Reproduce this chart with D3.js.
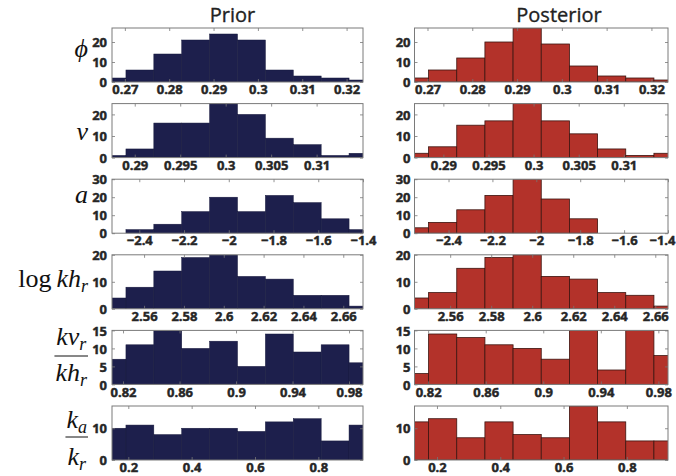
<!DOCTYPE html>
<html><head><meta charset="utf-8">
<script src="https://cdn.jsdelivr.net/npm/d3@7"></script>
<style>
body{margin:0;background:#fff}
svg{display:block}
.tick text{font-family:'Open Sans',sans-serif;font-weight:700;font-size:13px;fill:#262626;stroke:#262626;stroke-width:0.45px}
.title{font-family:'Open Sans',sans-serif;font-weight:500;font-size:20px;fill:#222;stroke:#222;stroke-width:0.35px}
.math{font-family:'Liberation Serif','DejaVu Serif',serif;font-size:26px;fill:#111}
</style>
</head><body><svg id="chart" width="676" height="476"></svg>
<script>
// Histogram counts, 10 bins per parameter
const priorPhi   = [2, 6, 14, 21, 24, 21, 6, 3, 2, 1];
const postPhi    = [2, 6, 12, 20, 27, 19, 8, 3, 2, 1];
const priorNu    = [1, 4, 16, 16, 25, 20, 9, 6, 1, 2];
const postNu     = [2, 5, 15, 17, 25, 17, 11, 4, 1, 2];
const priorA     = [0, 2, 5, 12, 20, 12, 21, 17, 8, 2];
const postA      = [3, 6, 13, 21, 30, 19, 8, 0, 0, 0];
const priorLogKh = [4, 8, 14, 19, 20, 12, 11, 5, 5, 1];
const postLogKh  = [4, 6, 15, 19, 20, 12, 11, 6, 5, 1];
const priorKvKh  = [7, 11, 15, 10, 12, 5, 14, 9, 11, 6];
const postKvKh   = [3, 14, 13, 11, 10, 7, 15, 4, 15, 8];
const priorKaKr  = [10, 11, 8, 10, 10, 9, 12, 13, 6, 11];
const postKaKr   = [12, 13, 7, 12, 8, 7, 17, 12, 6, 6];

// First and last bin centres (they coincide with the x limits)
const priorRanges = [[0.2671, 0.3237], [0.2875, 0.3151], [-2.522, -1.40], [2.5439, 2.6699], [0.8122, 0.9899], [0.1485, 0.941]];
const postRanges  = [[0.2671, 0.3237], [0.2868, 0.3149], [-2.555, -1.40], [2.5426, 2.6662], [0.8105, 0.9867], [0.129, 0.93]];

// Axis ticks
const xTicks = [[0.27, 0.28, 0.29, 0.30, 0.31, 0.32], [0.29, 0.295, 0.30, 0.305, 0.31], [-2.4, -2.2, -2.0, -1.8, -1.6, -1.4],
                [2.56, 2.58, 2.60, 2.62, 2.64, 2.66], [0.82, 0.86, 0.90, 0.94, 0.98], [0.2, 0.4, 0.6, 0.8]];
const xTickLabels = [["0.27", "0.28", "0.29", "0.3", "0.31", "0.32"], ["0.29", "0.295", "0.3", "0.305", "0.31"],
                     ["\u22122.4", "\u22122.2", "\u22122", "\u22121.8", "\u22121.6", "\u22121.4"],
                     ["2.56", "2.58", "2.6", "2.62", "2.64", "2.66"], ["0.82", "0.86", "0.9", "0.94", "0.98"], ["0.2", "0.4", "0.6", "0.8"]];
const yMax = [27, 25, 30, 20, 15, 17];
const yTicks = [[0, 10, 20], [0, 10, 20], [0, 10, 20, 30], [0, 10, 20], [0, 5, 10, 15], [0, 10]];
const columnTitles = ["Prior", "Posterior"];

const priorCounts = [priorPhi, priorNu, priorA, priorLogKh, priorKvKh, priorKaKr];
const postCounts  = [postPhi, postNu, postA, postLogKh, postKvKh, postKaKr];

const svg = d3.select("#chart");
svg.append("rect").attr("width", 676).attr("height", 476).attr("fill", "#fff");

const colX = [112, 414.5], colW = [251, 253.5];
const rowY0 = 28, rowStep = 75.6, plotH = 54;
const fills = ["#1d1f4c", "#b3322a"], strokes = ["#16183c", "#3d1410"];

// Column titles
svg.append("text").attr("class", "title").attr("x", 232.5).attr("y", 22).attr("text-anchor", "middle").text(columnTitles[0]);
svg.append("text").attr("class", "title").attr("x", 559).attr("y", 22).attr("text-anchor", "middle").text(columnTitles[1]);

for (let r = 0; r < 6; r++) {
  for (let c = 0; c < 2; c++) {
    const counts = c === 0 ? priorCounts[r] : postCounts[r];
    const range = c === 0 ? priorRanges[r] : postRanges[r];
    const w = colW[c];
    const g = svg.append("g").attr("transform", `translate(${colX[c]},${rowY0 + r * rowStep})`);
    const x = d3.scaleLinear().domain(range).range([0, w]);
    const y = d3.scaleLinear().domain([0, yMax[r]]).range([plotH, 0]);
    const step = (range[1] - range[0]) / 9;
    const centers = counts.map((_, i) => range[0] + i * step);

    const clipId = `clip-${r}-${c}`;
    g.append("clipPath").attr("id", clipId).append("rect").attr("width", w).attr("height", plotH);

    g.append("g").attr("clip-path", `url(#${clipId})`)
      .selectAll("rect").data(counts).join("rect")
      .attr("x", (d, i) => x(centers[i] - step / 2))
      .attr("width", (d, i) => x(centers[i] + step / 2) - x(centers[i] - step / 2))
      .attr("y", d => y(d))
      .attr("height", d => plotH - y(d))
      .attr("fill", fills[c])
      .attr("stroke", strokes[c])
      .attr("stroke-width", c === 0 ? 0.5 : 0.8);

    // Axes with inward ticks on all four sides
    const bottom = g.append("g").attr("transform", `translate(0,${plotH})`)
      .call(d3.axisBottom(x).tickValues(xTicks[r]).tickFormat((d, i) => xTickLabels[r][i]).tickSize(-3).tickPadding(3));
    g.append("g").call(d3.axisTop(x).tickValues(xTicks[r]).tickFormat("").tickSize(-3));
    const left = g.append("g")
      .call(d3.axisLeft(y).tickValues(yTicks[r]).tickSize(-3).tickPadding(c === 0 ? 5 : 4));
    g.append("g").attr("transform", `translate(${w},0)`)
      .call(d3.axisRight(y).tickValues(yTicks[r]).tickFormat("").tickSize(-3));
    g.selectAll(".domain").remove();
    g.selectAll(".tick line").attr("stroke", "#777").attr("stroke-width", 0.8);
    bottom.selectAll(".tick text").attr("dy", "0.71em");
    // keep the last label of the right column inside the page edge
    if (c === 1) {
      bottom.selectAll(".tick text").filter(function () {
        return this.getBBox && (colX[c] + x(xTicks[r][xTicks[r].length - 1]) + this.getComputedTextLength() / 2 > 675) &&
               this.textContent === xTickLabels[r][xTickLabels[r].length - 1];
      }).attr("dx", -6);
    }
    left.selectAll(".tick text").attr("dy", "0.36em");

    g.append("rect").attr("width", w).attr("height", plotH)
      .attr("fill", "none").attr("stroke", "#7a7a7a").attr("stroke-width", 1);
  }
}

// Parameter labels (math notation)
function mathLine(parent, xPos, yPos, parts, anchor) {
  const t = parent.append("text").attr("class", "math").attr("x", xPos).attr("y", yPos).attr("text-anchor", anchor);
  parts.forEach(p => {
    const s = t.append("tspan").text(p.t);
    if (p.italic) s.attr("font-style", "italic");
    if (p.dx) s.attr("dx", p.dx);
    if (p.sub) s.attr("font-size", 18).attr("dy", 5);
  });
  return t;
}
const labelRight = 88;
mathLine(svg, labelRight, 57, [{t: "\u03D5", italic: true}], "end");
mathLine(svg, labelRight, 140, [{t: "\u03BD", italic: true}], "end");
mathLine(svg, labelRight, 203, [{t: "a", italic: true}], "end");
mathLine(svg, labelRight, 287, [{t: "log"}, {t: "kh", italic: true, dx: 5}, {t: "r", italic: true, sub: true}], "end");

function fraction(numParts, denParts, numY, lineY, denY) {
  const num = mathLine(svg, 0, numY, numParts, "middle");
  const den = mathLine(svg, 0, denY, denParts, "middle");
  const wMax = Math.max(num.node().getComputedTextLength(), den.node().getComputedTextLength()) + 2;
  const cx = labelRight - wMax / 2;
  num.attr("x", cx); den.attr("x", cx);
  svg.append("line").attr("x1", cx - wMax / 2).attr("x2", cx + wMax / 2)
    .attr("y1", lineY).attr("y2", lineY).attr("stroke", "#111").attr("stroke-width", 1);
}
fraction([{t: "kv", italic: true}, {t: "r", italic: true, sub: true}],
         [{t: "kh", italic: true}, {t: "r", italic: true, sub: true}], 345, 356, 381);
fraction([{t: "k", italic: true}, {t: "a", italic: true, sub: true}],
         [{t: "k", italic: true}, {t: "r", italic: true, sub: true}], 428, 437, 465);
</script>
</body></html>
